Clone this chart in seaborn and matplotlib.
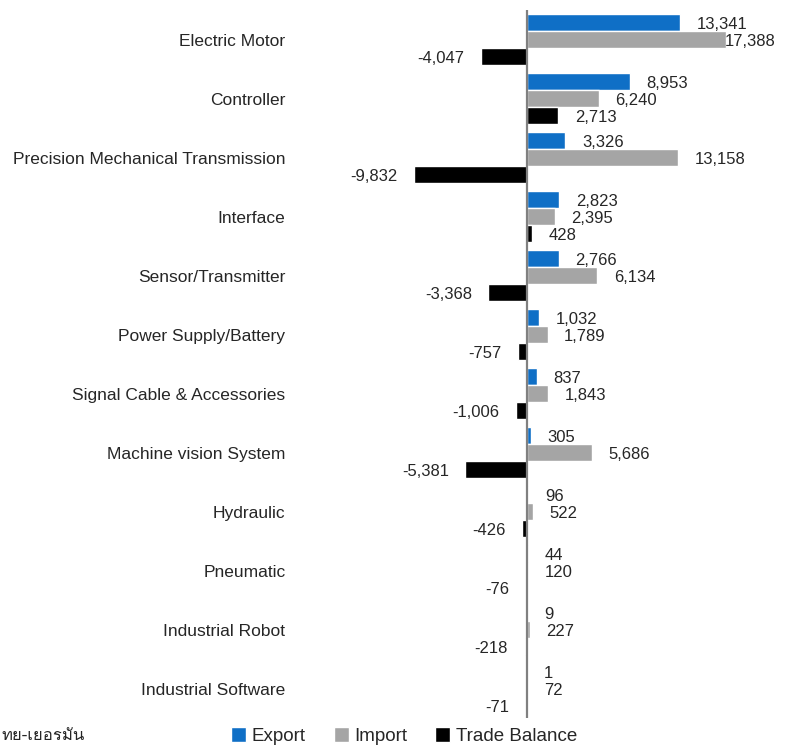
import matplotlib
matplotlib.use("Agg")
import matplotlib.pyplot as plt
import seaborn as sns
import pandas as pd
from matplotlib import font_manager
from matplotlib.patches import Patch
from fontTools.ttLib import TTFont

sns.set_theme(style="white")
plt.rcParams["font.family"] = ["Liberation Sans", "DejaVu Sans"]

# data
categories = [
    "Electric Motor", "Controller", "Precision Mechanical Transmission",
    "Interface", "Sensor/Transmitter", "Power Supply/Battery",
    "Signal Cable & Accessories", "Machine vision System", "Hydraulic",
    "Pneumatic", "Industrial Robot", "Industrial Software",
]
export = [13341, 8953, 3326, 2823, 2766, 1032, 837, 305, 96, 44, 9, 1]
imports = [17388, 6240, 13158, 2395, 6134, 1789, 1843, 5686, 522, 120, 227, 72]
balance = [-4047, 2713, -9832, 428, -3368, -757, -1006, -5381, -426, -76, -218, -71]
series = ["Export", "Import", "Trade Balance"]
colors = ["#0F6FC6", "#A5A5A5", "#000000"]
note = "ทย-เยอรมัน"


def thai_family():
    # look for any installed font that has Thai glyphs
    for f in font_manager.fontManager.ttflist:
        try:
            cmap = TTFont(f.fname, fontNumber=0, lazy=True).getBestCmap()
        except Exception:
            continue
        if cmap and all(ord(ch) in cmap for ch in "ทยเอรมัน"):
            return f.name
    return None


df = pd.DataFrame({
    "category": categories * 3,
    "series": [s for s in series for _ in categories],
    "value": export + imports + balance,
})

fig = plt.figure(figsize=(7.86, 7.46), dpi=100)
ax = fig.add_axes([0.379, 0.0375, 0.608, 0.949])

sns.barplot(data=df, y="category", x="value", hue="series", order=categories,
            hue_order=series, palette=colors, orient="h", width=0.85,
            gap=0, saturation=1, legend=False, ax=ax)

xmin, xmax = -20000, 21700
ax.set_xlim(xmin, xmax)
ax.axvline(0, color="#808080", lw=1.6, zorder=5)

pad = 1450
for cont, vals in zip(ax.containers, [export, imports, balance]):
    for bar, v in zip(cont, vals):
        yc = bar.get_y() + bar.get_height() / 2 + 0.03
        txt = f"{v:,}"
        if v >= 0:
            x = v + pad
            ha = "left"
            if x + 5000 > xmax:
                x, ha = xmax, "right"
        else:
            x = v - pad
            ha = "right"
        ax.text(x, yc, txt, ha=ha, va="center", fontsize=12, color="#262626")

for s in ax.spines.values():
    s.set_visible(False)
ax.set_xticks([])
ax.set_xlabel("")
ax.set_ylabel("")
ax.tick_params(axis="y", length=0, pad=9, labelsize=12.5, labelcolor="#262626")

handles = [Patch(facecolor=c, label=s) for c, s in zip(colors, series)]
fig.legend(handles=handles, loc="center", bbox_to_anchor=(0.514, 0.013), ncol=3,
           frameon=False, fontsize=13.5, handlelength=0.8, handleheight=0.8,
           handletextpad=0.3, columnspacing=1.5, labelcolor="#262626")

fam = thai_family()
fams = ([fam] if fam else []) + ["DejaVu Sans"]
fig.text(0.002, 0.013, note, ha="left", va="center", fontsize=12,
         color="#262626", family=fams)

fig.savefig("out.png", dpi=100)
